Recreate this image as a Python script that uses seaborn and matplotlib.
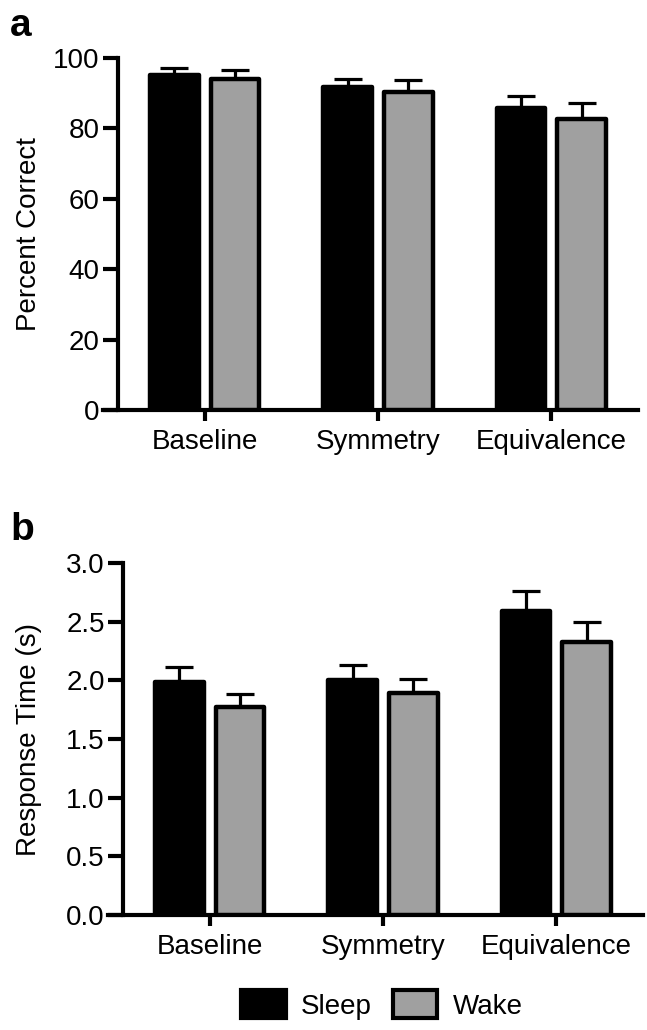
import matplotlib
matplotlib.use("Agg")
import matplotlib.pyplot as plt
import matplotlib.patches as mpatches
from matplotlib.ticker import FormatStrFormatter
import pandas as pd
import seaborn as sns

conditions = ["Baseline", "Symmetry", "Equivalence"]
groups = ["Sleep", "Wake"]

# panel a: percent correct (mean, upper SEM)
pct_sleep = [95.2, 91.9, 85.7]
pct_wake = [94.1, 90.3, 82.8]
pct_sleep_err = [2.0, 2.1, 3.5]
pct_wake_err = [2.5, 3.5, 4.3]

# panel b: response time in seconds
rt_sleep = [1.99, 2.00, 2.59]
rt_wake = [1.77, 1.89, 2.33]
rt_sleep_err = [0.12, 0.13, 0.17]
rt_wake_err = [0.11, 0.12, 0.17]

colors = ["black", "#A0A0A0"]

sns.set_theme(style="ticks")
plt.rcParams['font.family'] = ['Liberation Sans', 'DejaVu Sans']
for k in ['text.color', 'axes.edgecolor', 'axes.labelcolor', 'xtick.color', 'ytick.color']:
    plt.rcParams[k] = 'black'


def make_df(sleep, wake, sleep_err, wake_err):
    return pd.DataFrame({
        "condition": conditions * 2,
        "group": ["Sleep"] * 3 + ["Wake"] * 3,
        "value": sleep + wake,
        "err": sleep_err + wake_err,
    })


def draw_panel(ax, df, top, yticks, fmt, ylabel, label_x):
    sns.barplot(data=df, x="condition", y="value", hue="group", order=conditions,
                hue_order=groups, palette=colors, saturation=1, width=0.7, gap=0.2,
                edgecolor="black", linewidth=3.2, errorbar=None, legend=False, ax=ax, zorder=3)
    for cont, g in zip(ax.containers, groups):
        sub = df[df["group"] == g].set_index("condition").loc[conditions]
        xs = [b.get_x() + b.get_width() / 2 for b in cont]
        ax.errorbar(xs, sub["value"], yerr=[[0] * len(xs), sub["err"]], fmt="none",
                    ecolor="black", elinewidth=2.3, capsize=10, capthick=2.3, zorder=2)
        for b in cont:
            b.set_joinstyle("round")
    ax.set_xlim(-0.586, 2.5)
    ax.set_ylim(0, top)
    ax.set_yticks(yticks)
    ax.yaxis.set_major_formatter(FormatStrFormatter(fmt))
    sns.despine(ax=ax)
    ax.spines['left'].set_position(('data', -0.5))
    for s in ['left', 'bottom']:
        ax.spines[s].set_linewidth(3)
        ax.spines[s].set_color('black')
        ax.spines[s].set_capstyle("projecting")
    ax.tick_params(axis='y', length=11, width=3, pad=2, labelsize=20, colors='black')
    ax.tick_params(axis='x', length=8, width=3, pad=6, labelsize=20, colors='black')
    ax.set_xlabel("")
    ax.set_ylabel(ylabel, fontsize=20, color='black')
    ax.yaxis.set_label_coords(label_x, 0.5)


fig = plt.figure(figsize=(6.47, 10.30), dpi=100)
ax1 = fig.add_axes([103 / 647, 1 - 410 / 1030, 535 / 647, 352 / 1030])
ax2 = fig.add_axes([108 / 647, 1 - 915 / 1030, 535 / 647, 352 / 1030])

draw_panel(ax1, make_df(pct_sleep, pct_wake, pct_sleep_err, pct_wake_err),
           100, [0, 20, 40, 60, 80, 100], "%d", "Percent Correct", -0.114)
draw_panel(ax2, make_df(rt_sleep, rt_wake, rt_sleep_err, rt_wake_err),
           3.0, [0, 0.5, 1.0, 1.5, 2.0, 2.5, 3.0], "%.1f", "Response Time (s)", -0.123)

fig.text(10 / 647, 1 - 36 / 1030, "a", fontsize=28, fontweight="bold", va="baseline", color="black")
fig.text(10 / 647, 1 - 540 / 1030, "b", fontsize=28, fontweight="bold", va="baseline", color="black")

handles = [mpatches.Patch(facecolor=c, edgecolor="black", linewidth=3) for c in colors]
fig.legend(handles, groups, loc="center", bbox_to_anchor=(382 / 647, 1 - 1005 / 1030),
           ncol=2, frameon=False, fontsize=20, handlelength=1.6, handleheight=1.15,
           handletextpad=0.55, columnspacing=0.75)

fig.savefig("out.png", dpi=100)
